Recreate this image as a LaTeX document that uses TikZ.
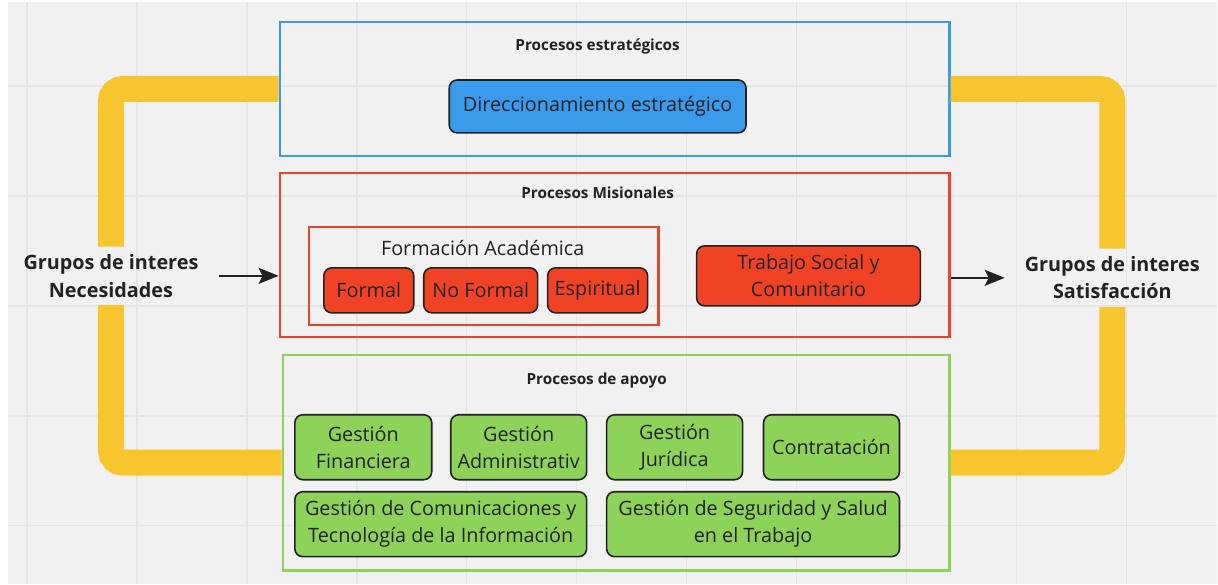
\documentclass[tikz,border=0pt]{standalone}
\usepackage{fontspec}
\setmainfont{Open Sans}
\usetikzlibrary{positioning,arrows.meta}

\definecolor{bgcol}{HTML}{F1F1F1}
\definecolor{gridcol}{HTML}{E5E5E5}
\definecolor{miroyellow}{HTML}{F7C62F}
\definecolor{miroblue}{HTML}{3A9AEC}
\definecolor{mirored}{HTML}{F04326}
\definecolor{mirogreen}{HTML}{8DD35A}
\definecolor{inkcol}{HTML}{222222}

\begin{document}
\begin{tikzpicture}[x=1pt, y=-1pt,
    every node/.style={text=inkcol, align=center, inner sep=0pt},
    frame/.style={draw, line width=2.5pt, minimum width=#1},
    title/.style={font=\fontsize{15.3}{18}\selectfont\bfseries},
    proc/.style={draw=inkcol, line width=1.6pt, rounded corners=8pt, minimum height=65pt,
      minimum width=#1, font=\fontsize{19.8}{27}\selectfont},
    group/.style={font=\fontsize{19.8}{27.5}\selectfont\bfseries, minimum height=58pt},
    band/.style={miroyellow, line width=26pt, rounded corners=12pt},
    flow/.style={-{Stealth[length=20pt, width=16pt, inset=4pt]}, line width=2.5pt, inkcol}]
  % background and grid
  \fill[white] (0,0) rectangle (1218,584);
  \fill[bgcol] (8,2) rectangle (1218,584);
  \foreach \gx in {27,137,...,1127} \draw[gridcol, line width=1.5pt] (\gx,2) -- (\gx,584);
  \foreach \gy in {86,196,...,526} \draw[gridcol, line width=1.5pt] (8,\gy) -- (1218,\gy);

  % process frames
  \node[frame=670pt, draw=miroblue, minimum height=134pt] (estr) at (615,89) {};
  \node[frame=670pt, draw=mirored, minimum height=164pt] (mis) at (615,255) {};
  \node[frame=667pt, draw=mirogreen, minimum height=216pt] (apo) at (616.5,463) {};
  \node[title] (estrT) at (598,47) {Procesos estratégicos};
  \node[title] (misT) at (598,193) {Procesos Misionales};
  \node[title] (apoT) at (597,381) {Procesos de apoyo};

  % strategic
  \node[proc=297pt, fill=miroblue, minimum height=53pt] (dir) at (598,106.5) {Direccionamiento estratégico};

  % misionales
  \node[draw=mirored, line width=2.5pt, minimum width=350pt, minimum height=98pt] (acad) at (484,276) {};
  \node[font=\fontsize{19.8}{24}\selectfont] (acadT) at (483,248) {Formación Académica};
  \node[proc=90pt, fill=mirored, minimum height=45pt] (formal) at (369,290.5) {Formal};
  \node[proc=114pt, fill=mirored, minimum height=45pt] (noformal) at (481,290.5) {No Formal};
  \node[proc=100pt, fill=mirored, minimum height=45pt] (espir) at (598,290.5) {Espiritual};
  \node[proc=224pt, fill=mirored, minimum height=60pt] (trab) at (809,276) {Trabajo Social y\\Comunitario};

  % apoyo
  \node[proc=137pt, fill=mirogreen] (fin) at (363.5,447.5) {Gestión\\Financiera};
  \node[proc=136pt, fill=mirogreen] (adm) at (519,447.5) {Gestión\\Administrativ};
  \node[proc=136pt, fill=mirogreen] (jur) at (675,447.5) {Gestión\\Jurídica};
  \node[proc=136pt, fill=mirogreen] (con) at (832,447.5) {Contratación};
  \node[proc=292pt, fill=mirogreen] (com) at (441,524.5) {Gestión de Comunicaciones y\\Tecnología de la Información};
  \node[proc=293pt, fill=mirogreen] (seg) at (753.5,524.5) {Gestión de Seguridad y Salud\\en el Trabajo};

  % stakeholders
  \node[group] (nec) at (111,276) {Grupos de interes\\Necesidades};
  \node[group] (sat) at (1113,278) {Grupos de interes\\Satisfacción};

  % yellow bands
  \draw[band] (estr.west) -| (nec.north);
  \draw[band] (nec.south) |- (apo.west);
  \draw[band] (estr.east) -| (sat.north);
  \draw[band] (sat.south) |- (apo.east);

  % arrows
  \draw[flow, shorten <=20pt] (nec.east) -- (nec.east -| mis.west);
  \draw[flow, shorten >=20pt] (sat.west -| mis.east) -- (sat.west);
\end{tikzpicture}
\end{document}
